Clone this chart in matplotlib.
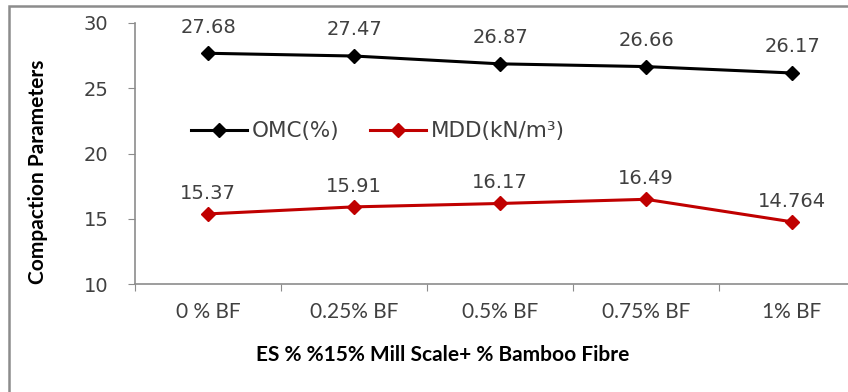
import matplotlib
matplotlib.use("Agg")
import matplotlib.pyplot as plt
from matplotlib.patches import Rectangle

# compaction results for each bamboo fibre dosage
categories = ["0 % BF", "0.25% BF", "0.5% BF", "0.75% BF", "1% BF"]
omc = [27.68, 27.47, 26.87, 26.66, 26.17]
mdd = [15.37, 15.91, 16.17, 16.49, 14.764]
omc_labels = ["27.68", "27.47", "26.87", "26.66", "26.17"]
mdd_labels = ["15.37", "15.91", "16.17", "16.49", "14.764"]
yticks = [10, 15, 20, 25, 30]

W, H = 848, 392
fig = plt.figure(figsize=(W / 100, H / 100), dpi=100)
fig.patch.set_facecolor("white")

# outer chart frame
fig.patches.append(Rectangle((9 / W, -0.01), 1.0, 1 - 6 / H + 0.01,
                             transform=fig.transFigure, fill=False,
                             edgecolor="#8c8c8c", linewidth=1.8))

ax = fig.add_axes([135 / W, 1 - 284 / H, 730 / W, (284 - 23) / H])
ax.set_facecolor("none")

x = list(range(len(categories)))
ax.plot(x, omc, color="black", lw=2.2, marker="D", ms=7, label="OMC(%)")
ax.plot(x, mdd, color="#c00000", lw=2.2, marker="D", ms=7, label="MDD(kN/m³)")

num_font = dict(family="DejaVu Sans", fontsize=14, color="#404040")
for xi, v, t in zip(x, omc, omc_labels):
    ax.annotate(t, (xi, v), xytext=(0, 12), textcoords="offset points",
                ha="center", va="bottom", **num_font)
for xi, v, t in zip(x, mdd, mdd_labels):
    ax.annotate(t, (xi, v), xytext=(0, 8), textcoords="offset points",
                ha="center", va="bottom", **num_font)

ax.set_xlim(-0.5, len(categories) - 0.5)
ax.set_ylim(10, 30)
ax.set_yticks(yticks)
ax.set_yticklabels([str(t) for t in yticks], **num_font)
ax.set_xticks([i - 0.5 for i in range(len(categories) + 1)])
ax.set_xticklabels([])
ax.set_xticks(x, minor=True)
ax.set_xticklabels(categories, minor=True, family="Lato", fontsize=15, color="#404040")
ax.tick_params(axis="x", which="minor", length=0, pad=13)
ax.tick_params(axis="x", which="major", length=5, color="#8c8c8c", direction="out")
ax.tick_params(axis="y", length=5, color="#8c8c8c", direction="out", pad=14)

for s in ["top", "right"]:
    ax.spines[s].set_visible(False)
for s in ["left", "bottom"]:
    ax.spines[s].set_color("#8c8c8c")
    ax.spines[s].set_linewidth(1.2)

leg = ax.legend(loc="center left", bbox_to_anchor=(0.05, 0.585), ncol=2, frameon=False,
                handlelength=2.6, handletextpad=0.25, columnspacing=1.4,
                prop=dict(family="DejaVu Sans", size=15.5))
for t in leg.get_texts():
    t.set_color("#404040")

fig.text(443 / W, 1 - 355 / H, "ES % %15% Mill Scale+ % Bamboo Fibre",
         ha="center", va="center", fontsize=15, fontweight="bold",
         family="Lato", color="black")
fig.text(38 / W, 1 - 172 / H, "Compaction Parameters", rotation=90,
         ha="center", va="center", fontsize=15, fontweight="bold",
         family="Lato", color="black")

fig.savefig("out.png", dpi=100, facecolor="white")
